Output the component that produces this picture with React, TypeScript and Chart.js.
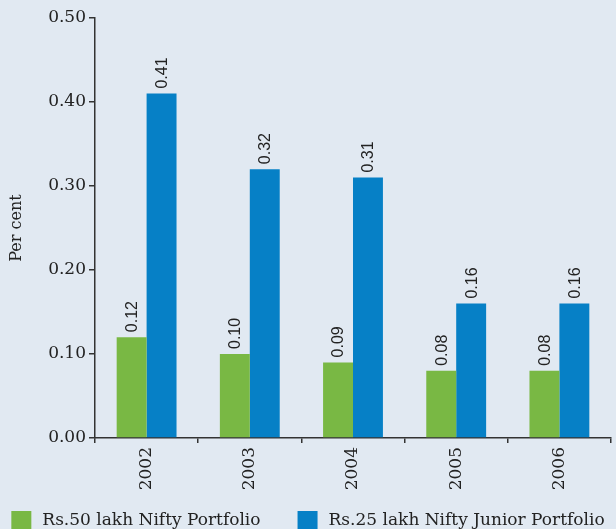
import React, { useEffect, useRef } from "react";
import { Chart, registerables } from "chart.js";

Chart.register(...registerables);

const categories = ["2002", "2003", "2004", "2005", "2006"];
const niftyValues = [0.12, 0.10, 0.09, 0.08, 0.08];
const juniorValues = [0.41, 0.32, 0.31, 0.16, 0.16];
const seriesNames = ["Rs.50 lakh Nifty Portfolio", "Rs.25 lakh Nifty Junior Portfolio"];
const seriesColors = ["#79b844", "#0680c6"];
const yTicks = [0, 0.1, 0.2, 0.3, 0.4, 0.5];

const SERIF = "'DejaVu Serif', serif";
const SANS = "'Liberation Sans', Arial, sans-serif";

const valueLabels = {
  id: "valueLabels",
  afterDatasetsDraw(chart: any) {
    const ctx = chart.ctx;
    ctx.save();
    ctx.fillStyle = "#222";
    ctx.font = "16px " + SANS;
    ctx.textAlign = "left";
    ctx.textBaseline = "middle";
    chart.data.datasets.forEach((ds: any, i: number) => {
      const meta = chart.getDatasetMeta(i);
      meta.data.forEach((el: any, j: number) => {
        ctx.save();
        ctx.translate(el.x, el.y - 5);
        ctx.rotate(-Math.PI / 2);
        ctx.fillText(Number(ds.data[j]).toFixed(2), 0, 1);
        ctx.restore();
      });
    });
    ctx.restore();
  },
};

const bottomLegend = {
  id: "bottomLegend",
  afterDraw(chart: any) {
    const ctx = chart.ctx;
    const box = 20;
    const boxGap = 11;
    const itemGap = 37;
    ctx.save();
    ctx.font = "17px " + SERIF;
    ctx.textBaseline = "middle";
    ctx.textAlign = "left";
    const items = chart.data.datasets.map((ds: any) => ({
      text: ds.label,
      color: ds.backgroundColor,
      w: box + boxGap + ctx.measureText(ds.label).width,
    }));
    const total = items.reduce((a: number, it: any) => a + it.w, 0) + itemGap * (items.length - 1);
    let x = (chart.width - total) / 2;
    const top = chart.scales.x.bottom + 11;
    items.forEach((it: any) => {
      ctx.fillStyle = it.color;
      ctx.fillRect(x, top, box, box);
      ctx.fillStyle = "#222";
      ctx.fillText(it.text, x + box + boxGap, top + 10);
      x += it.w + itemGap;
    });
    ctx.restore();
  },
};

export default function App() {
  const ref = useRef<HTMLCanvasElement>(null);
  useEffect(() => {
    if (!ref.current) return;
    const chart = new Chart(ref.current, {
      type: "bar",
      data: {
        labels: categories,
        datasets: [
          { label: seriesNames[0], data: niftyValues, backgroundColor: seriesColors[0], borderWidth: 0 },
          { label: seriesNames[1], data: juniorValues, backgroundColor: seriesColors[1], borderWidth: 0 },
        ],
      },
      options: {
        animation: false,
        responsive: false,
        maintainAspectRatio: false,
        layout: { padding: { top: 18, right: 5, left: 0, bottom: 48 } },
        datasets: { bar: { barPercentage: 1, categoryPercentage: 0.58 } },
        plugins: {
          tooltip: { enabled: false },
          legend: { display: false },
        },
        scales: {
          x: {
            afterFit: (s: any) => { s.height = 62; },
            border: { color: "#333", width: 1.5 },
            grid: { drawOnChartArea: false, tickLength: 5, color: "#333", lineWidth: 1.5 },
            ticks: {
              color: "#222",
              font: { family: SERIF, size: 17 },
              minRotation: 90,
              maxRotation: 90,
              padding: 4,
            },
          },
          y: {
            min: 0,
            max: 0.5,
            afterFit: (s: any) => { s.width = 95; },
            afterBuildTicks: (s: any) => { s.ticks = yTicks.map((v) => ({ value: v })); },
            border: { color: "#333", width: 1.5 },
            grid: { drawOnChartArea: false, tickLength: 6, color: "#333", lineWidth: 1.5 },
            title: { display: true, text: "Per cent", color: "#222", font: { family: SERIF, size: 16 }, padding: { top: 7, bottom: 0 } },
            ticks: {
              color: "#222",
              font: { family: SERIF, size: 17 },
              padding: 3,
              callback: (v: any) => Number(v).toFixed(2),
            },
          },
        },
      },
      plugins: [valueLabels, bottomLegend],
    });
    return () => chart.destroy();
  }, []);
  return (
    <div style={{ position: "absolute", left: 0, top: 0, width: 616, height: 529, overflow: "hidden", background: "#e1e9f2" }}>
      <canvas ref={ref} width={616} height={548} style={{ display: "block" }} />
    </div>
  );
}
